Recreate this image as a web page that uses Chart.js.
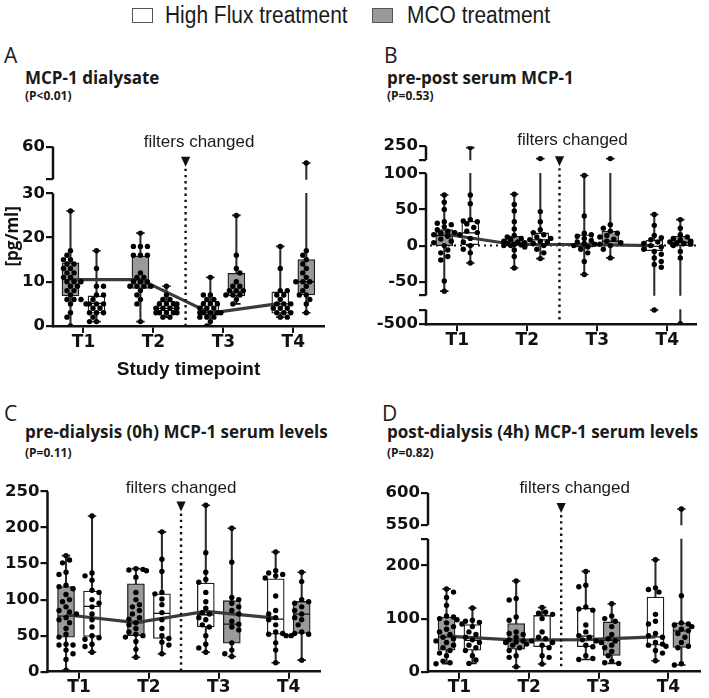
<!DOCTYPE html>
<html>
<head>
<meta charset="utf-8">
<script src="https://cdn.jsdelivr.net/npm/chart.js@4.4.1/dist/chart.umd.min.js"></script>
<style>
  body { margin: 0; width: 709px; height: 698px; background: #fff; position: relative; overflow: hidden; }
  canvas { position: absolute; }
  .t { position: absolute; white-space: nowrap; line-height: 1; color: #1a1a1a; }
  .leg { font-family: 'Liberation Sans', Arial, sans-serif; font-size: 23px; transform: scaleX(0.91); transform-origin: left top; top: 3.8px; }
  .sw { position: absolute; top: 8.3px; width: 21px; height: 15px; box-sizing: border-box; border: 1.5px solid #555; }
  .let { font-family: 'Open Sans', sans-serif; font-size: 21px; }
  .ttl { font-family: 'Open Sans', sans-serif; font-weight: bold; font-size: 17px; }
  .pv { font-family: 'Open Sans', sans-serif; font-weight: bold; font-size: 12px; }
</style>
</head>
<body>
<div class="sw" style="left:131.7px;background:#fff"></div>
<div class="t leg" style="left:165px">High Flux treatment</div>
<div class="sw" style="left:371.7px;background:#9a9a9a"></div>
<div class="t leg" style="left:406.7px">MCO treatment</div>

<div class="t let" style="left:4px;top:44.9px">A</div>
<div class="t ttl" style="left:25px;top:68.9px">MCP-1 dialysate</div>
<div class="t pv" style="left:25px;top:90.3px">(P&lt;0.01)</div>

<div class="t let" style="left:384px;top:44.9px">B</div>
<div class="t ttl" style="left:387px;top:68.9px">pre-post serum MCP-1</div>
<div class="t pv" style="left:387px;top:90.3px">(P=0.53)</div>

<div class="t let" style="left:4px;top:402.9px">C</div>
<div class="t ttl" style="left:25px;top:423.4px">pre-dialysis (0h) MCP-1 serum levels</div>
<div class="t pv" style="left:25px;top:446.8px">(P=0.11)</div>

<div class="t let" style="left:382px;top:402.9px">D</div>
<div class="t ttl" style="left:387px;top:423.4px">post-dialysis (4h) MCP-1 serum levels</div>
<div class="t pv" style="left:387px;top:446.8px">(P=0.82)</div>

<canvas id="cA" width="354" height="265" style="left:0;top:120px"></canvas>
<canvas id="cB" width="355" height="265" style="left:354px;top:120px"></canvas>
<canvas id="cC" width="354" height="233" style="left:0;top:465px"></canvas>
<canvas id="cD" width="355" height="233" style="left:354px;top:465px"></canvas>

<script>
const timepoints = ['T1', 'T2', 'T3', 'T4'];
const mcoOnLeft = [true, true, false, false]; // MCO box sits left of HF box at T1/T2
const legendLabels = ['High Flux treatment', 'MCO treatment'];
const filterChangeAt = 2.46;

// boxes are [min, q1, median, q3, max]

// A: MCP-1 dialysate [pg/ml]
const aHfBox = [[1, 2.9, 5.1, 6.8, 17], [2, 3.4, 4, 5.6, 9], [0, 2.5, 3, 5.6, 11], [2, 2.9, 5, 7.7, 18]];
const aMcoBox = [[0, 6.8, 10.5, 14.3, 26], [1, 8.5, 10.3, 15.8, 21], [5, 6.8, 7.7, 11.9, 25], [3, 7, 10, 15, 50]];
const aHfPts = [
  [17, 13, 9, 9, 7, 7, 6, 5, 5, 5, 5, 4, 4, 3, 3, 3, 2, 1, 1],
  [9, 7, 6, 6, 5, 5, 5, 5, 4, 4, 4, 4, 3, 3, 3, 3, 3, 2, 2],
  [11, 7, 7, 6, 6, 5, 5, 5, 4, 4, 4, 3, 3, 3, 3, 3, 2, 2, 2, 1, 0],
  [18, 13, 8, 8, 7, 7, 6, 5, 5, 5, 4, 4, 4, 3, 3, 3, 2, 2]
];
const aMcoPts = [
  [26, 17, 16, 15, 15, 14, 14, 13, 13, 12, 12, 11, 11, 10, 10, 10, 9, 9, 8, 8, 7, 6, 6, 6, 5, 3, 2, 0],
  [21, 18, 18, 18, 16, 16, 16, 12, 11, 11, 10, 10, 10, 9, 9, 9, 9, 8, 7, 6, 5, 1],
  [25, 16, 13, 12, 10, 9, 9, 8, 8, 8, 7, 7, 7, 6, 5],
  [50, 17, 16, 15, 14, 13, 12, 11, 10, 10, 10, 9, 8, 7, 7, 6, 5, 3]
];
const aLine = [10.5, 10.5, 2.9, 5.1];
const aTicks = [0, 10, 20, 30, 40, 60];
const aTickLabels = ['0', '10', '20', '30', '', '60'];

// B: pre-post serum MCP-1
const bHfBox = [[-24, 1.4, 17.5, 33.7, 240], [-18, 0, 8, 17.5, 160], [-40, -2, 3, 15, 97], [-160, -7, -1, 7.4, 43]];
const bMcoBox = [[-63, 0, 14, 22, 70], [-31, 0, 3, 13, 71], [-17, 0, 6, 20, 160], [-490, 0, 4.6, 13, 36]];
const bHfPts = [
  [240, 70, 58, 36, 34, 33, 30, 25, 20, 18, 15, 10, 5, 0, -5, -10, -24],
  [160, 47, 33, 22, 18, 15, 12, 10, 8, 6, 5, 3, 0, -5, -10, -18],
  [97, 41, 17, 15, 13, 10, 7, 5, 3, 2, 0, -2, -5, -10, -22, -40],
  [43, 28, 14, 11, 8, 5, 3, 0, -2, -5, -8, -12, -17, -22, -26, -30, -160]
];
const bMcoPts = [
  [70, 60, 50, 33, 31, 29, 26, 22, 20, 18, 17, 15, 13, 9, 6, 4, 0, -6, -10, -15, -20, -49, -63],
  [71, 57, 48, 33, 23, 14, 12, 10, 8, 6, 5, 4, 3, 2, 1, 0, 0, -2, -6, -15, -31],
  [160, 29, 24, 20, 17, 14, 12, 9, 6, 4, 2, 0, -5, -17],
  [36, 24, 15, 12, 10, 8, 6, 5, 4, 3, 2, 0, -8, -17, -490]
];
const bLine = [16, 1.5, 1.5, 0];
const bTicks = [-500, -150, -69, -50, 0, 50, 100, 150, 250];
const bTickLabels = ['-500', '', '', '-50', '0', '50', '100', '', '250'];

// C: pre-dialysis (0h) serum
const cHfBox = [[27, 48.8, 90.6, 112, 216], [25, 46, 81, 108, 194], [27, 62, 79, 123, 231], [12.5, 52, 73, 129, 166]];
const cMcoBox = [[2, 48, 77, 118, 161], [20, 50, 68, 122, 143], [21, 39.5, 66, 98.5, 199], [16, 53, 80, 97.5, 138]];
const cHfPts = [
  [216, 137, 133, 127, 113, 110, 100, 95, 90, 80, 72, 62, 50, 47, 45, 38, 35, 27],
  [194, 156, 139, 110, 108, 101, 93, 82, 72, 60, 50, 46, 41, 37, 25],
  [231, 165, 138, 128, 124, 110, 97, 88, 82, 80, 75, 72, 65, 62, 50, 38, 33, 27],
  [166, 140, 137, 135, 133, 130, 105, 85, 80, 75, 72, 65, 55, 53, 52, 50, 40, 30, 12.5]
];
const cMcoPts = [
  [161, 155, 151, 138, 135, 120, 118, 115, 107, 100, 97, 90, 85, 83, 80, 75, 72, 68, 60, 52, 48, 38, 37, 37, 30, 25, 17, 2],
  [143, 142, 141, 140, 131, 110, 100, 93, 90, 85, 80, 75, 73, 68, 65, 60, 55, 52, 50, 48, 42, 31, 20],
  [199, 152, 103, 100, 95, 90, 85, 80, 70, 66, 62, 58, 40, 30, 25, 21],
  [138, 125, 100, 97, 95, 90, 85, 80, 75, 72, 65, 55, 53, 52, 50, 16]
];
const cLine = [79, 68, 83.6, 74.4];
const cTicks = [0, 50, 100, 150, 200, 250];
const cTickLabels = ['0', '50', '100', '150', '200', '250'];

// D: post-dialysis (4h) serum
const dHfBox = [[15.6, 40.6, 59, 89, 120], [14.4, 47, 61, 106, 121], [23, 47, 67, 119.4, 189], [20.6, 50, 65.6, 140.6, 211]];
const dMcoBox = [[15, 40.6, 65.6, 103, 156], [9.4, 42.5, 61, 90.6, 171], [15.6, 30.6, 59, 93.8, 128], [12.5, 45.6, 77, 92, 575]];
const dHfPts = [
  [120, 97, 95, 93, 90, 85, 75, 70, 65, 60, 55, 50, 45, 40, 30, 22, 15.6],
  [121, 112, 110, 108, 100, 75, 65, 62, 58, 55, 50, 45, 30, 27, 14.4],
  [189, 163, 160, 122, 118, 116, 88, 75, 68, 65, 60, 58, 50, 47, 30, 25, 23],
  [211, 158, 155, 150, 108, 95, 90, 72, 68, 65, 55, 52, 50, 48, 40, 35, 20.6]
];
const dMcoPts = [
  [156, 150, 140, 125, 105, 103, 100, 98, 92, 85, 80, 75, 70, 65, 62, 58, 55, 50, 45, 40, 35, 30, 20, 17, 15],
  [171, 138, 135, 103, 97, 75, 72, 70, 65, 60, 58, 56, 55, 52, 50, 45, 40, 30, 27, 9.4],
  [128, 105, 100, 95, 85, 70, 62, 58, 55, 50, 45, 38, 30, 20, 17, 15.6],
  [575, 143, 92, 90, 88, 85, 80, 77, 72, 65, 55, 48, 45, 15, 12.5]
];
const dLine = [66.9, 59.4, 60.6, 65.6];
const dTicks = [0, 100, 200, 250, 550, 600];
const dTickLabels = ['0', '100', '200', '', '550', '600'];

// panel layout; segments map value ranges onto the (broken) y axis, p in px above the x axis
const panelA = {
  canvas: 'cA', xMin: 0.564, xMax: 4.439, pxPerX: 69.9, top: 179.3, padTop: 26.7, padRight: 30,
  yWidth: 53, xHeight: 59, noteDx: 13.5, noteDy: -4.7, yTitle: '[pg/ml]', xTitle: 'Study timepoint',
  segments: [{v0: 0, v1: 30, p0: 0, p1: 132.7}, {v0: 40, v1: 60, p0: 146.7, p1: 179.3}]
};
const panelB = {
  canvas: 'cB', xMin: 0.553, xMax: 4.41, pxPerX: 70, top: 178, padTop: 26.2, padRight: 13,
  yWidth: 72, xHeight: 60.8, noteDx: 13, noteDy: -6.2, zeroLine: true,
  segments: [{v0: -500, v1: -150, p0: 0, p1: 14.6}, {v0: -69, v1: 100, p0: 28.7, p1: 150.9}, {v0: 150, v1: 250, p0: 164.2, p1: 178}]
};
const panelC = {
  canvas: 'cC', xMin: 0.549, xMax: 4.448, pxPerX: 69.9, top: 180.2, padTop: 26.5, padRight: 34,
  yWidth: 47.5, xHeight: 26.3, noteDx: 0, noteDy: -3.2,
  segments: [{v0: 0, v1: 250, p0: 0, p1: 180.2}]
};
const panelD = {
  canvas: 'cD', xMin: 0.548, xMax: 4.449, pxPerX: 69.7, top: 178.7, padTop: 28, padRight: 9,
  yWidth: 74, xHeight: 26.3, noteDx: 13.5, noteDy: -4.7,
  segments: [{v0: 0, v1: 250, p0: 0, p1: 132.7}, {v0: 550, v1: 600, p0: 146.7, p1: 178.7}]
};

const SHIFT = 0.186;
const ink = '#111';
const tickFont = {family: "'DejaVu Sans'", weight: 'bold', size: 16.5};

function drawPanel(cfg, hfBox, mcoBox, hfPts, mcoPts, lineVals, ticks, tickLabels) {
  const toY = v => {
    for (const s of cfg.segments) {
      if (v >= s.v0 - 1e-6 && v <= s.v1 + 1e-6) return s.p0 + (v - s.v0) * (s.p1 - s.p0) / (s.v1 - s.v0);
    }
    return null;
  };
  const xAt = (t, isMco) => t + 1 + (isMco === mcoOnLeft[t] ? -SHIFT : SHIFT);

  // simple beeswarm so tied values spread sideways
  function swarm(vals, cx) {
    const placed = [], out = [], D = 5.4, step = 3.5;
    vals.forEach((v, i) => {
      const py = toY(v);
      let bx = 0, best = Infinity;
      const sgn = i % 2 ? 1 : -1;
      for (let k = 0; k <= 3 && best > 0; k++) {
        for (const s of (k ? [sgn, -sgn] : [1])) {
          const px = s * k * step;
          let ov = 0;
          placed.forEach(p => { const d = Math.hypot(p.x - px, p.y - py); if (d < D) ov += D - d; });
          if (ov < best) { best = ov; bx = px; }
          if (ov === 0) break;
        }
      }
      placed.push({x: bx, y: py});
      out.push({x: cx + bx / cfg.pxPerX, y: py});
    });
    return out;
  }

  const boxBars = (boxes, isMco) => boxes.map((b, t) => ({x: xAt(t, isMco), y: [toY(b[1]), toY(b[3])]}));
  const whiskers = [], caps = [], medians = [], dots = [];
  [[hfBox, false], [mcoBox, true]].forEach(([boxes, isMco]) => boxes.forEach((b, t) => {
    const x = xAt(t, isMco);
    cfg.segments.forEach(s => {
      const lo = Math.max(b[0], s.v0), hi = Math.min(b[4], s.v1);
      if (lo < hi) whiskers.push({x, y: [toY(lo), toY(hi)]});
    });
    caps.push({x, y: toY(b[0])}, {x, y: toY(b[4])});
    medians.push({x, y: toY(b[2])});
  }));
  [[hfPts, false], [mcoPts, true]].forEach(([sets, isMco]) =>
    sets.forEach((vals, t) => dots.push(...swarm(vals, xAt(t, isMco)))));
  const line = lineVals.map((v, t) => ({x: t + 1 - SHIFT, y: toY(v)}));

  const breakAxis = {
    id: 'breakAxis',
    beforeDatasetsDraw(chart) {
      const {ctx, chartArea, scales: {y}} = chart;
      ctx.save();
      ctx.strokeStyle = ink;
      ctx.lineWidth = 2.5;
      cfg.segments.forEach((s, i) => {
        ctx.beginPath();
        ctx.moveTo(chartArea.left, y.getPixelForValue(s.p0) + (i === 0 ? 1.25 : 0));
        ctx.lineTo(chartArea.left, y.getPixelForValue(s.p1));
        ctx.stroke();
      });
      if (cfg.zeroLine) {
        const zy = y.getPixelForValue(toY(0));
        ctx.lineWidth = 2;
        ctx.setLineDash([2, 4]);
        ctx.beginPath();
        ctx.moveTo(chartArea.left + 4, zy);
        ctx.lineTo(chartArea.right, zy);
        ctx.stroke();
      }
      ctx.restore();
    }
  };

  const filterNote = {
    id: 'filterNote',
    afterDatasetsDraw(chart) {
      const {ctx, chartArea, scales: {x}} = chart;
      const px = x.getPixelForValue(filterChangeAt);
      const top = chartArea.top;
      ctx.save();
      ctx.fillStyle = ink;
      ctx.beginPath();
      ctx.moveTo(px - 4.6, top + 10);
      ctx.lineTo(px + 4.6, top + 10);
      ctx.lineTo(px, top + 20);
      ctx.closePath();
      ctx.fill();
      ctx.strokeStyle = ink;
      ctx.lineWidth = 2.4;
      ctx.setLineDash([2.4, 3.8]);
      ctx.beginPath();
      ctx.moveTo(px, top + 22);
      ctx.lineTo(px, chartArea.bottom);
      ctx.stroke();
      ctx.setLineDash([]);
      ctx.fillStyle = '#1a1a1a';
      ctx.font = "17px 'Liberation Sans'";
      ctx.textAlign = 'center';
      ctx.textBaseline = 'middle';
      ctx.fillText('filters changed', px + cfg.noteDx, top + cfg.noteDy);
      ctx.restore();
    }
  };

  new Chart(document.getElementById(cfg.canvas), {
    type: 'bar',
    data: {
      datasets: [
        {type: 'bar', label: 'whiskers', data: whiskers, backgroundColor: '#2b2b2b', borderWidth: 0,
          barThickness: 1.4, grouped: false, order: 7},
        {type: 'bar', label: legendLabels[0], data: boxBars(hfBox, false), backgroundColor: '#ffffff',
          borderColor: '#1e1e1e', borderWidth: 1.3, borderSkipped: false, barThickness: 17, grouped: false, order: 6},
        {type: 'bar', label: legendLabels[1], data: boxBars(mcoBox, true), backgroundColor: '#9a9a9a',
          borderColor: '#1e1e1e', borderWidth: 1.3, borderSkipped: false, barThickness: 17, grouped: false, order: 6},
        {type: 'scatter', label: 'median', data: medians, pointStyle: 'line', pointRadius: 8,
          pointBorderWidth: 1.3, pointBorderColor: ink, order: 5},
        {type: 'line', label: 'trend', data: line, borderColor: '#3b3b3b', borderWidth: 3.2, pointRadius: 0, order: 4},
        {type: 'scatter', label: 'patients', data: dots, pointRadius: 2.7, pointBackgroundColor: '#000',
          pointBorderWidth: 0, order: 3},
        {type: 'scatter', label: 'range', data: caps, pointStyle: 'line', pointRadius: 4.2,
          pointBorderWidth: 1.6, pointBorderColor: ink, order: 2}
      ]
    },
    options: {
      responsive: false,
      devicePixelRatio: 1,
      animation: false,
      events: [],
      layout: {padding: {top: cfg.padTop, right: cfg.padRight, bottom: 0, left: 0}},
      plugins: {legend: {display: false}, tooltip: {enabled: false}},
      scales: {
        x: {
          type: 'linear', position: 'bottom', min: cfg.xMin, max: cfg.xMax, offset: false,
          afterBuildTicks: s => { s.ticks = timepoints.map((_, i) => ({value: i + 1})); },
          afterFit: s => { s.height = cfg.xHeight; },
          ticks: {autoSkip: false, maxRotation: 0, padding: -1, color: ink, font: {...tickFont, size: 17},
            callback: (v, i) => timepoints[i]},
          grid: {drawOnChartArea: false, drawTicks: true, tickLength: 7, color: ink, lineWidth: 2, offset: false},
          border: {display: true, width: 2.5, color: ink},
          title: {display: !!cfg.xTitle, text: cfg.xTitle || '', color: ink,
            font: {family: "'Liberation Sans'", weight: 'bold', size: 19}, padding: {top: 0, bottom: 3.5}}
        },
        y: {
          type: 'linear', position: 'left', min: 0, max: cfg.top,
          afterBuildTicks: s => { s.ticks = ticks.map(v => ({value: toY(v)})); },
          afterFit: s => { s.width = cfg.yWidth; },
          ticks: {autoSkip: false, padding: 1, color: ink, font: tickFont, callback: (v, i) => tickLabels[i]},
          grid: {drawOnChartArea: false, drawTicks: true, tickLength: 7, color: ink, lineWidth: 2.2},
          border: {display: false},
          title: {display: !!cfg.yTitle, text: cfg.yTitle || '', color: ink,
            font: {family: "'Open Sans'", weight: 'bold', size: 17}, padding: {top: 3.3, bottom: 0}}
        }
      }
    },
    plugins: [breakAxis, filterNote]
  });
}

drawPanel(panelA, aHfBox, aMcoBox, aHfPts, aMcoPts, aLine, aTicks, aTickLabels);
drawPanel(panelB, bHfBox, bMcoBox, bHfPts, bMcoPts, bLine, bTicks, bTickLabels);
drawPanel(panelC, cHfBox, cMcoBox, cHfPts, cMcoPts, cLine, cTicks, cTickLabels);
drawPanel(panelD, dHfBox, dMcoBox, dHfPts, dMcoPts, dLine, dTicks, dTickLabels);
</script>
</body>
</html>
